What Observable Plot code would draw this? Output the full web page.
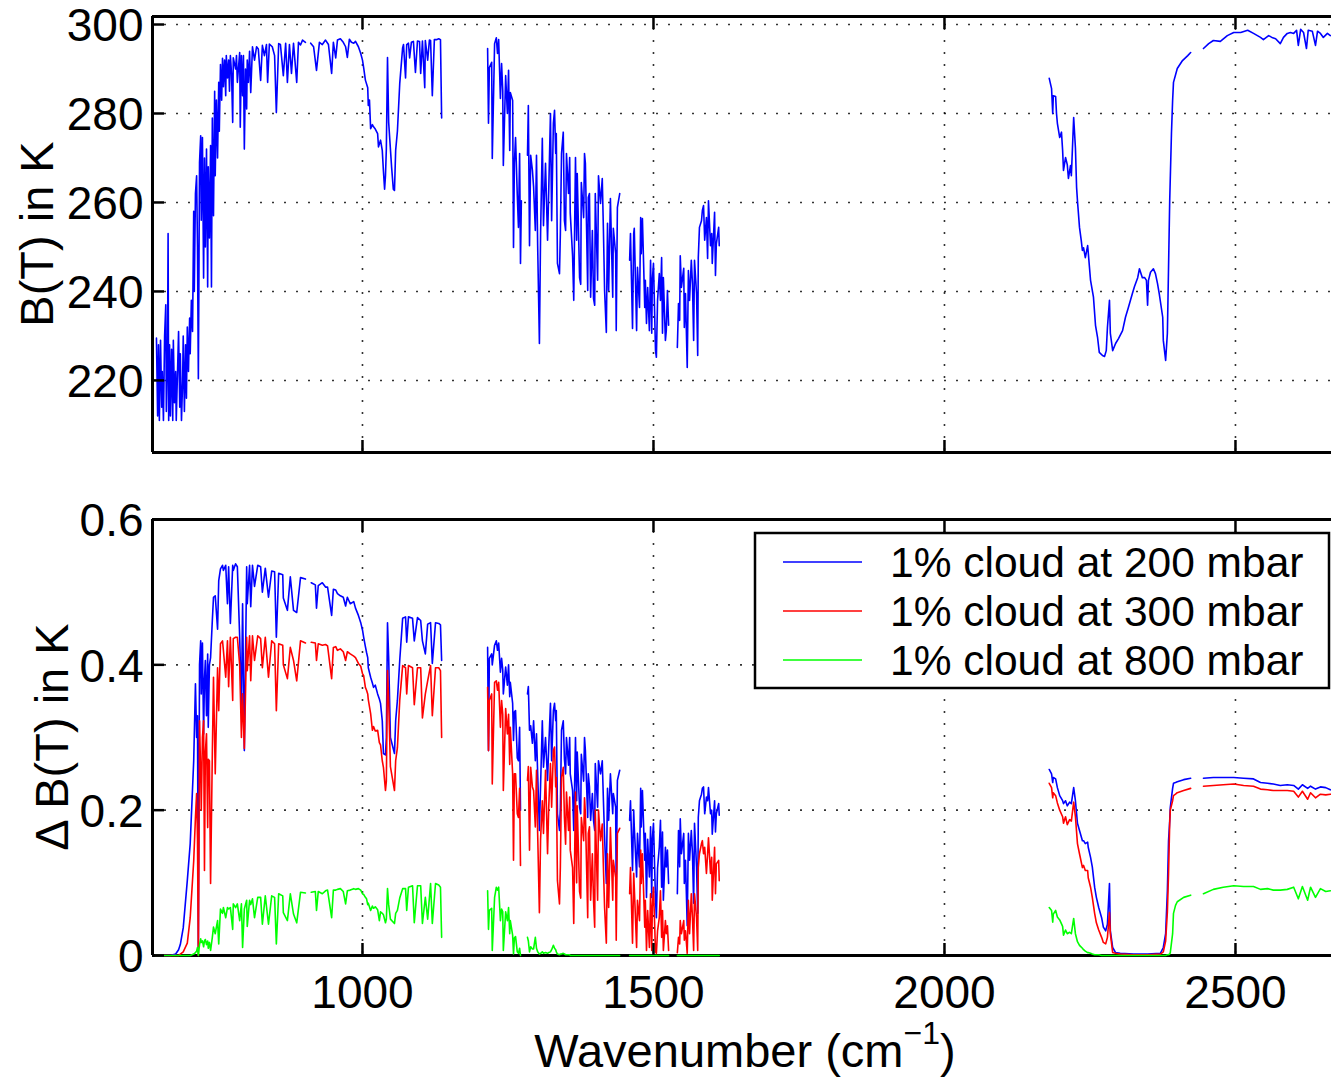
<!DOCTYPE html>
<html>
<head>
<meta charset="utf-8">
<script src="https://cdn.jsdelivr.net/npm/d3@7"></script>
<script src="https://cdn.jsdelivr.net/npm/@observablehq/plot@0.6"></script>
<style>
html, body { margin:0; padding:0; background:#fff; overflow:hidden; }
#chart { position:relative; width:1331px; height:1079px; }
#chart svg { display:block; }
</style>
</head>
<body>
<div id="chart"></div>
<script>
// ---------------- DATA ----------------
// Top panel: brightness temperature spectrum (wavenumber in cm^-1, B(T) in K); null = gap
const wnTop = [
646,648,649.5,651,653,655,656,658,660,662,
663,665,666,667,668.5,670,672,674,675,677,
679,680,684,686,687,689,691,692,694,696,
697.5,699,701,703,704,706,708,710,711,713,
715,716.5,718,720,722,723,725,727,728.5,730,
732,734,735,737,739,740.5,742,744,746,747,
749,751,753,754,756,758,759.5,761,763,765,
766,768,770,771.5,773,775,777,778,782,783.5,
785,789,790,792,794,795.5,797,799,801,802,
804,806,808,811,814.5,818,821,825,828,831.5,
835,837,840,845,849,852,856,859,864,868,
871,874.5,878,881.5,887,890,893.5,897,902,906,
911,916,921,926,931,936.5,941.5,947,950,954,
957,962,967,971,974,977.5,981,985,988,993,
997,1000,1002,1005,1009,1010,1012,1014,1017,1019,
1022,1026,1027.5,1031,1034,1036,1038,1039.5,1041,1043,
1045,1046,1050,1053,1055,1057,1060,1064,1069,1070.5,
1074,1076,1079,1081,1084,1087.5,1091,1094.5,1098,1100,
1103,1107,1108,1112,1115,1117,1120,1123.5,1127,1131,
1134,1136,1175,
1215,1216.5,1218,1222,1223,1227,1230,1232,1234,1237,
1239,1241,1242,1246,1249,1251,1253,1254,1258,1259.5,
1261,1263,1266,1268,1270,1271.5,1273,1277,1283.5,1285,1287,
1289,1292,1294,1297,1299,1301,1304,1306,1309,1311,
1314.5,1318,1320,1323,1325,1328,1330,1332,1333,1335,
1338.5,1340,1342,1345,1347,1349,1350.5,1354,1356,1357,
1361,1363,1366,1368,1369,1373,1375,1376,1380,1381.5,
1383,1387,1388,1390,1392,1395,1397,1399,1400,1404,
1405.5,1409,1412,1414,1416,1419,1421,1423,1426,1430,
1431,1435,1436,1438,1442,1450,1459,1460.5,1464,1466,
1467,1471,1472.5,1476,1478,1479,1481,1485,1486,1488,
1490,1493,1495,1497,1498,1500,1503.5,1505,1507,1510,
1512,1514,1515.5,1517,1520.5,1522,1524,1526,1533,1541,
1543,1545,1546,1548,1552,1553,1555,1558,1560,1562,
1565,1567,1569,1570.5,1574,1576,1577,1579,1582.5,1584,
1586,1588,1591,1593,1594.5,1598,1600,1601,1605,1606.5,
1608,1612,1613,1900,
2180,2184,2186,2187,2191,2192.5,2194,2198,2201,2203,
2204.5,2208,2211,2213,2216.5,2218,2222,2225,2227,2228.5,
2232,2235,2237,2239,2242,2246,2247,2251,2256,2259.5,
2263,2266,2271.5,2275,2278,2280,2283.5,2285,2289,2294,
2299,2306,2311,2316,2323,2326.5,2332,2335,2340,2344,
2347,2349,2350.5,2354,2359,2362.5,2366,2369,2375,2376,
2380,2383,2385,2387,2390,2392,2393.5,2400,2409,2418,
2423,2434,2445,2454,2462,2474,2486,2497,2509,2521,
2531,2543,2548,2557,2564,2569,2577,2582.5,2589,2594.5,
2600,2605,2608,2612,2617,2622,2625,2632,2637.5,2641,
2646,2651,2658,2663
];
const btTop = [
229.5,212,228,211,229,214,222,211,230,237,
213,226,253,211,228,212,227,211,229,215,
222,211,231,214,226,211,220,230,213,228,
216,232,222,234,226,238,231,258,240,262,
266,250,220.4,269,275,256,274.6,243,270,250,
272,241,268,252,272.8,241,279,257,285,266,
283,270,287,276,291,283,292.4,286,292,284,
293,288,292,285,293,289,278,292.5,290,293,
287,293.7,276.9,293,284,293,272,290,281,292,
287,294,284.7,295,292,295,294.5,287.4,295.3,293,
295.5,287,295.6,295,293,280.2,295.7,295.5,288.5,295.8,
287,295.5,289,295.8,287,296,295.4,296.5,296,null,
295.8,295,289.7,296,295.5,296.5,295.5,289,296,292.5,
296.5,296.8,296,295,292.6,296.7,296,295.8,296.2,295,
293.5,292,290.3,287.5,285.8,281.8,283,276.6,277.5,277,
276.5,275.5,272.5,274,271.7,267,263,266,272,292.6,
278,276,268,263,262.7,271.7,276,286.7,294.8,295.5,
288,295.5,295.8,292.5,296,296.2,289.2,296.3,296.2,289,
296.3,285.8,296.4,292,296.5,296.4,284,296.6,296.6,296.8,
296.6,279,null,
294.6,277.8,290.3,291.5,269.9,295.7,297,293.5,296.6,283.4,
291.2,285.2,268.3,288.5,280,289.7,271.7,284.7,282.9,249.9,
268.8,274.6,261.6,254.4,271,246.3,260.4,null,270.6,281.8,250.3,
270.6,267.2,263.5,253.7,270.6,250.3,228.3,252.8,274.4,254.8,
268.8,251.5,262.7,280,255.9,277.8,280.7,271,275.5,246.3,
244,253,271,275.8,255.9,253.7,271,262,270.1,257.6,
248,238,270.1,251.5,266.5,243.1,241.6,264.5,256.6,271,
268.8,240.2,261.1,262,238.7,253.7,238.4,236.9,262,242.5,
266,259.8,265.4,253.7,240.2,230.8,255.3,240.2,260.9,238.7,
254.2,248.5,231.2,258.9,262,null,247,253,231.7,253,
254.2,231.2,245.4,236.4,256.6,248.5,256.4,236.4,242.5,232.8,
240.9,231.2,247,230.6,242.5,246.3,226.7,225.2,238,244,
238,247.6,230.6,243.1,229,231.2,240.2,232.4,null,227.4,
237.3,233.5,248,240.9,245.2,231.9,239.5,222.9,244.7,238,
247,241.8,229,247,239.5,225.6,247.6,254.4,255.9,258.2,
259.3,251.5,256.6,247.4,260.4,250.3,253,246.3,257.8,243.6,
250.7,254.4,250.3,null,
287.9,285.6,280,284,283.8,280,277.8,274.6,275.8,271.7,
267.2,270.1,268.5,265.4,268.3,266,279.1,272.3,263.4,260.4,
254.4,251.5,249.2,249.8,247.6,250.3,248.8,242.5,238.7,232.4,
229.7,226.3,225.6,225.4,226.7,231.9,238,230.6,226.7,228.3,
229.4,231.2,234.2,236.4,239.6,241.1,243.1,245.1,243.1,243.1,
242.5,236.9,242.5,244.3,245.1,244,241.8,239.5,234.2,229,
224.5,230.6,245.4,260.4,275.5,282.9,287,290.1,291.9,293,
293.7,null,294.6,295.7,296.4,296.2,297.5,298.2,298.2,298.7,
298,297.1,296.6,297.5,297,296.8,295.7,297.1,298,298.2,
298,298.7,295.3,298.9,298.2,294.6,298.7,298.5,295.3,298.5,
298,297.1,298,297.5
];

// Bottom panel: Delta B(T) for three cloud heights (shared wavenumber grid); null = gap
const wnDelta = [
644,653,662,670,679,684,687,692,699,704,
710,713,715,716.5,718,720,722,723,725,727,
728.5,730,732,734,735,737,739,742,744,747,
751,753,756,759.5,761,765,768,770,773,777,
778,782,785,789,792,794,797,801,802,806,
808,811,814.5,820,825,828,833,838.5,844,849,
852,856,863,864,871,876,881.5,887,893.5,902,
906,912,919,921,924,931,936.5,940,947,950,
954,957,962,967,971,974,979,985,988,993,
997,1000,1002,1005,1007,1009,1010,1014,1017,1019,
1022,1026,1029,1031,1034,1036,1039.5,1041,1043,1045,
1048,1055,1057,1060,1064,1069,1074,1076,1079,1086,
1089,1094.5,1100,1103,1108,1112,1117,1120,1125.5,1131,
1134,1136,1175,
1215,1216.5,1218,1222,1223,1227,1230,1232,1234,1237,
1239,1241,1242,1246,1249,1251,1253,1254,1258,1259.5,
1261,1263,1266,1268,1270,1271.5,1277,1283.5,1285,1287,
1289,1292,1294,1297,1299,1301,1304,1306,1309,1311,
1314.5,1318,1320,1323,1325,1328,1330,1332,1333,1335,
1338.5,1340,1342,1345,1347,1349,1350.5,1354,1356,1357,
1361,1363,1366,1368,1369,1373,1375,1376,1380,1381.5,
1383,1387,1388,1390,1392,1395,1397,1399,1400,1404,
1405.5,1409,1412,1414,1416,1419,1421,1423,1426,1430,
1431,1435,1436,1438,1442,1450,1459,1460.5,1464,1466,
1467,1471,1472.5,1476,1478,1479,1481,1485,1486,1488,
1490,1493,1495,1497,1498,1500,1503.5,1505,1507,1510,
1512,1514,1515.5,1517,1520.5,1522,1524,1526,1533,1541,
1543,1545,1546,1548,1552,1553,1555,1558,1560,1562,
1565,1567,1569,1570.5,1574,1576,1577,1579,1582.5,1584,
1586,1588,1591,1593,1594.5,1598,1600,1601,1605,1606.5,
1608,1612,1613,1900,
2180,2184,2186,2187,2191,2194,2198,2203,2204.5,2208,
2211,2215,2218,2222,2225,2228.5,2232,2237,2239,2242,
2246,2247,2251,2254,2258,2261,2265,2270,2273,2277,
2280,2283.5,2285,2289,2294,2302,2325,2349,2371,2376,
2380,2383,2385,2387,2388,2392,2393.5,2397,2400,2411,
2423,2434,2445,2462,2479,2497,2514,2531,2543,2555,
2565,2577,2589,2600,2608,2615,2624,2629,2637.5,2646,
2655,2663
];
const d200 = [
0,0,0,0,0.002,0.008,0.015,0.038,0.103,0.154,
0.268,0.374,0.30,0.33,0.01,0.40,0.433,0.36,0.43,0.305,
0.38,0.406,0.33,0.415,0.314,0.40,0.41,0.461,0.493,0.495,
0.449,0.516,0.532,0.537,0.53,0.537,0.484,0.535,0.457,0.537,
0.53,0.539,0.535,0.438,0.341,0.484,0.282,0.535,0.484,0.537,
0.48,0.537,0.508,0.537,0.535,0.50,0.533,0.493,0.529,0.528,
0.438,0.526,0.524,0.492,0.475,0.521,0.475,0.472,0.52,0.518,
null,0.513,0.51,0.478,0.509,0.513,0.507,0.507,0.468,0.504,
0.503,0.498,0.495,0.493,0.481,0.493,0.484,0.487,0.478,0.468,
0.458,0.448,0.438,0.425,0.417,0.41,0.396,0.383,0.375,0.369,
0.372,0.36,0.353,0.347,0.323,0.278,0.276,0.3,0.458,0.41,
0.3,0.278,0.323,0.351,0.406,0.464,0.466,0.431,0.466,0.464,
0.433,0.465,0.461,0.433,0.415,0.456,0.458,0.402,0.458,0.457,
0.455,0.406,null,
0.424,0.282,0.409,0.415,0.40,0.427,0.433,0.42,0.43,0.39,
0.409,0.393,0.36,0.397,0.372,0.40,0.356,0.376,0.347,0.296,
0.335,0.337,0.272,0.268,0.314,0.2,null,0.36,0.37,0.31,
0.316,0.292,0.323,0.268,0.305,0.25,0.172,0.234,0.323,0.259,
0.3,0.241,0.287,0.347,0.268,0.337,0.347,0.323,0.337,0.195,
0.172,0.204,0.31,0.323,0.27,0.25,0.3,0.262,0.3,0.25,
0.227,0.172,0.3,0.213,0.28,0.204,0.195,0.277,0.24,0.3,
0.282,0.19,0.25,0.232,0.186,0.223,0.186,0.172,0.264,0.204,
0.268,0.25,0.268,0.213,0.163,0.099,0.23,0.186,0.25,0.195,
0.223,0.204,0.094,0.241,0.255,null,0.186,0.213,0.117,0.2,
0.177,0.108,0.168,0.122,0.23,0.177,0.227,0.131,0.168,0.08,
0.16,0.108,0.177,0.08,0.16,0.182,0.076,0.052,0.12,0.149,
0.186,0.094,0.17,0.076,0.149,0.122,0.145,0.099,null,0.085,
0.172,0.122,0.188,0.14,0.168,0.099,0.131,0.041,0.168,0.131,
0.172,0.14,0.072,0.182,0.122,0.058,0.19,0.213,0.222,0.23,
0.232,0.195,0.218,0.213,0.231,0.195,0.2,0.167,0.213,0.17,
0.195,0.209,0.193,null,
0.256,0.25,0.238,0.245,0.243,0.231,0.22,0.213,0.209,0.213,
0.206,0.211,0.209,0.231,0.213,0.182,0.172,0.158,0.158,0.154,
0.156,0.149,0.135,0.122,0.094,0.08,0.066,0.052,0.039,0.034,
0.043,0.099,0.034,0.011,0.004,0.003,0.002,0.002,0.003,0.011,
0.03,0.089,0.158,0.185,0.204,0.23,0.237,0.238,0.239,0.242,
0.244,null,0.244,0.245,0.245,0.245,0.244,0.243,0.238,0.237,
0.236,0.234,0.235,0.234,0.229,0.235,0.23,0.233,0.229,0.232,
0.231,0.228
];
const d300 = [
0,0,0,0,0,0,0.002,0.005,0.017,0.052,
0.13,0.19,0.223,0.16,0,0.323,0.25,0.2,0.30,0.323,
0.117,0.28,0.305,0.176,0.27,0.268,0.099,0.278,0.383,0.25,
0.396,0.337,0.429,0.433,0.42,0.383,0.433,0.37,0.438,0.351,
0.436,0.438,0.438,0.40,0.30,0.36,0.285,0.438,0.392,0.44,
0.378,0.44,0.406,0.44,0.436,0.396,0.438,0.383,0.433,0.429,
0.337,0.429,0.427,0.40,0.381,0.424,0.406,0.378,0.433,0.43,
null,0.431,0.43,0.406,0.429,0.427,0.428,0.426,0.381,0.424,
0.425,0.42,0.422,0.418,0.406,0.418,0.415,0.412,0.41,0.402,
0.398,0.388,0.385,0.369,0.365,0.36,0.352,0.333,0.31,0.315,
0.309,0.31,0.293,0.29,0.268,0.259,0.227,0.24,0.392,0.351,
0.26,0.227,0.268,0.286,0.351,0.399,0.396,0.36,0.399,0.396,
0.345,0.396,0.396,0.327,0.36,0.378,0.399,0.33,0.396,0.396,
0.392,0.30,null,
0.369,0.282,0.351,0.36,0.236,0.376,0.378,0.365,0.376,0.314,
0.351,0.332,0.227,0.34,0.305,0.332,0.263,0.314,0.25,0.131,
0.25,0.25,0.195,0.19,0.23,0.124,null,0.241,0.26,0.145,
0.259,0.232,0.227,0.177,0.255,0.168,0.059,0.16,0.213,0.168,
0.255,0.14,0.204,0.264,0.204,0.282,0.287,0.232,0.245,0.103,
0.071,0.122,0.245,0.259,0.19,0.153,0.225,0.172,0.218,0.145,
0.121,0.044,0.225,0.1,0.206,0.088,0.079,0.19,0.158,0.217,
0.195,0.052,0.168,0.177,0.076,0.14,0.076,0.039,0.2,0.076,
0.2,0.158,0.181,0.121,0.066,0.017,0.14,0.066,0.176,0.076,
0.131,0.107,0.021,0.168,0.175,null,0.085,0.121,0.017,0.113,
0.094,0.011,0.076,0.048,0.145,0.099,0.14,0.039,0.076,0.007,
0.062,0.011,0.085,0.007,0.066,0.094,0.005,0.003,0.034,0.052,
0.089,0.025,0.062,0.007,0.048,0.03,0.041,0.007,null,0.004,
0.025,0.016,0.048,0.03,0.048,0.021,0.034,0.003,0.076,0.03,
0.085,0.052,0.007,0.085,0.052,0.007,0.121,0.14,0.154,0.158,
0.14,0.149,0.113,0.14,0.162,0.113,0.135,0.076,0.149,0.085,
0.126,0.131,0.103,null,
0.237,0.231,0.217,0.224,0.22,0.21,0.2,0.191,0.182,0.191,
0.18,0.187,0.185,0.211,0.191,0.154,0.14,0.121,0.124,0.117,
0.117,0.107,0.094,0.08,0.058,0.045,0.035,0.025,0.018,0.016,
0.025,0.059,0.03,0.004,0.003,0.002,0.001,0.001,0.002,0.005,
0.02,0.06,0.113,0.182,0.2,0.213,0.22,0.222,0.224,0.227,
0.23,null,0.233,0.234,0.235,0.236,0.234,0.233,0.229,0.228,
0.227,0.227,0.227,0.226,0.218,0.226,0.215,0.224,0.217,0.222,
0.221,0.222
];
const d800 = [
0,0,0,0,0,0,0,0,0,0,
0.002,0.004,0.006,0.011,0,0.015,0.023,0.018,0.02,0.012,
0.02,0.022,0.015,0.02,0.01,0.018,0.007,0.025,0.039,0.03,
0.048,0.016,0.064,0.058,0.066,0.052,0.066,0.064,0.066,0.036,
0.071,0.066,0.071,0.048,0.071,0.011,0.064,0.076,0.04,0.076,
0.07,0.078,0.052,0.08,0.08,0.043,0.082,0.043,0.082,0.08,
0.016,0.085,0.082,0.059,0.048,0.085,0.057,0.045,0.087,0.086,
null,0.087,0.088,0.062,0.088,0.085,0.089,0.09,0.052,0.09,
0.09,0.091,0.092,0.088,0.071,0.089,0.09,0.092,0.091,0.092,
0.09,0.085,0.084,0.08,0.078,0.07,0.072,0.062,0.068,0.065,
0.067,0.063,0.048,0.06,0.058,0.056,0.045,0.05,0.092,0.07,
0.05,0.044,0.058,0.062,0.079,0.092,0.092,0.062,0.094,0.096,
0.045,0.096,0.096,0.044,0.08,0.05,0.099,0.044,0.099,0.097,
0.094,0.025,null,
0.089,0.036,0.062,0.065,0.007,0.08,0.094,0.09,0.094,0.048,
0.064,0.06,0.007,0.06,0.048,0.066,0.03,0.048,0.028,0.002,
0.024,0.026,0.005,0.003,0.01,0,null,0.025,0.02,0.005,
0.012,0.009,0.009,0.025,0.01,0.005,0.002,0.003,0.005,0.003,
0.004,0.003,0.004,0.005,0.008,0.014,0.01,0.008,0.005,0.002,
0.001,0.002,0.002,0.003,0.002,0.001,0.001,0.001,0.001,0,
0,0,0,0,0,0,0,0,0,0,
0,0,0,0,0,0,0,0,0,0,
0,0,0,0,0,0,0,0,0,0,
0,0,0,0,0,null,0,0,0,0,
0,0,0,0,0,0,0,0,0,0,
0,0,0,0,0,0,0,0,0,0,
0,0,0,0,0,0,0,0,null,0,
0,0,0,0,0,0,0,0,0,0,
0,0,0,0,0,0,0,0,0,0,
0,0,0,0,0,0,0,0,0,0,
0,0,0,null,
0.066,0.062,0.046,0.057,0.062,0.053,0.049,0.04,0.028,0.035,
0.03,0.032,0.03,0.051,0.03,0.019,0.014,0.01,0.008,0.006,
0.004,0.004,0.003,0.002,0.001,0.001,0.001,0,0,0,
0,0,0,0,0,0,0,0,0,0,
0,0.001,0.001,0.002,0.004,0.03,0.058,0.069,0.074,0.08,
0.083,null,0.085,0.091,0.094,0.096,0.095,0.095,0.091,0.092,
0.09,0.09,0.091,0.094,0.078,0.095,0.076,0.094,0.08,0.092,
0.088,0.089
];

const xTicks = [1000, 1500, 2000, 2500];
const yTicksTop = [220, 240, 260, 280, 300];
const yTicksBottom = [0, 0.2, 0.4, 0.6];
const seriesNames = ["1% cloud at 200 mbar", "1% cloud at 300 mbar", "1% cloud at 800 mbar"];
const seriesColors = ["#0000ff", "#ff0000", "#00ff00"];
const xDomain = [639.2, 2665];
const yDomainTop = [203.8, 301.8];
const yDomainBottom = [0, 0.6];

// ---------------- DRAWING ----------------
const FONT = "'Liberation Sans', Arial, Helvetica, sans-serif";

const topRows = wnTop.map((x, i) => ({x, y: btTop[i]}));
const deltaSeries = [d200, d300, d800].map(arr => wnDelta.map((x, i) => ({x, y: arr[i]})));

function gridMarks(yTicks) {
  const g = {stroke: "#000", strokeOpacity: 0.8, strokeWidth: 1.6, strokeDasharray: "2,10"};
  return [Plot.gridX({ticks: xTicks, ...g}), Plot.gridY({ticks: yTicks, ...g})];
}
function frameMarks(yDomain) {
  return [
    Plot.ruleY(yDomain, {stroke: "#000", strokeWidth: 3}),
    Plot.ruleX([xDomain[0]], {stroke: "#000", strokeWidth: 3})
  ];
}
function tickMarks(yTicks) {
  return [
    Plot.axisX({ticks: xTicks, anchor: "bottom", tickSize: -12, strokeWidth: 2.5, fill: "none", label: null}),
    Plot.axisX({ticks: xTicks, anchor: "top", tickSize: -12, strokeWidth: 2.5, fill: "none", label: null}),
    Plot.axisY({ticks: yTicks, anchor: "left", tickSize: -12, strokeWidth: 2.5, fill: "none", label: null}),
    Plot.axisY({ticks: yTicks, anchor: "left", tickSize: 0, tickPadding: 9, fontSize: 46, dy: 2,
                tickFormat: d => String(d), label: null})
  ];
}
const baseStyle = {fontFamily: FONT, fontSize: "46px", background: "#fff", color: "#000", overflow: "visible"};

const topPlot = Plot.plot({
  width: 1331, height: 490,
  marginTop: 16, marginBottom: 38, marginLeft: 152, marginRight: 0,
  x: {domain: xDomain}, y: {domain: yDomainTop},
  style: baseStyle,
  marks: [
    ...gridMarks(yTicksTop),
    ...frameMarks(yDomainTop),
    Plot.line(topRows, {x: "x", y: "y", stroke: seriesColors[0], strokeWidth: 1.6}),
    ...tickMarks(yTicksTop)
  ]
});

const bottomPlot = Plot.plot({
  width: 1331, height: 589,
  marginTop: 29, marginBottom: 124, marginLeft: 152, marginRight: 0,
  x: {domain: xDomain}, y: {domain: yDomainBottom},
  style: baseStyle,
  marks: [
    ...gridMarks(yTicksBottom),
    ...frameMarks(yDomainBottom),
    ...deltaSeries.map((rows, k) => Plot.line(rows, {x: "x", y: "y", stroke: seriesColors[k], strokeWidth: 1.6})),
    ...tickMarks(yTicksBottom),
    Plot.axisX({ticks: xTicks, anchor: "bottom", tickSize: 0, tickPadding: 20, fontSize: 46,
                tickFormat: d => String(d), label: null})
  ]
});

const chart = document.getElementById("chart");
chart.appendChild(topPlot);
chart.appendChild(bottomPlot);

// Axis titles
d3.select(topPlot).append("text")
  .attr("transform", "translate(53,234) rotate(-90)")
  .attr("text-anchor", "middle").attr("font-family", FONT).attr("font-size", 47).attr("fill", "#000")
  .text("B(T) in K");

d3.select(bottomPlot).append("text")
  .attr("transform", "translate(68,247) rotate(-90)")
  .attr("text-anchor", "middle").attr("font-family", FONT).attr("font-size", 47).attr("fill", "#000")
  .text("\u0394 B(T) in K");

const xl = d3.select(bottomPlot).append("text")
  .attr("x", 745).attr("y", 577)
  .attr("text-anchor", "middle").attr("font-family", FONT).attr("font-size", 47).attr("fill", "#000");
xl.append("tspan").text("Wavenumber (cm");
xl.append("tspan").attr("font-size", 32).attr("dy", -23).text("\u22121");
xl.append("tspan").attr("dy", 23).text(")");

// Legend (inside the lower axes, upper right)
const lg = d3.select(bottomPlot).append("g")
  .attr("font-family", FONT).attr("font-size", 42.5).attr("text-anchor", "start");
lg.append("rect").attr("x", 755).attr("y", 43).attr("width", 574).attr("height", 155)
  .attr("fill", "#fff").attr("stroke", "#000").attr("stroke-width", 2.5);
seriesNames.forEach((name, k) => {
  const cy = 72 + k * 49;
  lg.append("line").attr("x1", 783).attr("x2", 862).attr("y1", cy).attr("y2", cy)
    .attr("stroke", seriesColors[k]).attr("stroke-width", 1.5);
  lg.append("text").attr("x", 890).attr("y", cy).attr("dy", "0.36em")
    .attr("text-anchor", "start").attr("fill", "#000").text(name);
});
</script>
</body>
</html>
